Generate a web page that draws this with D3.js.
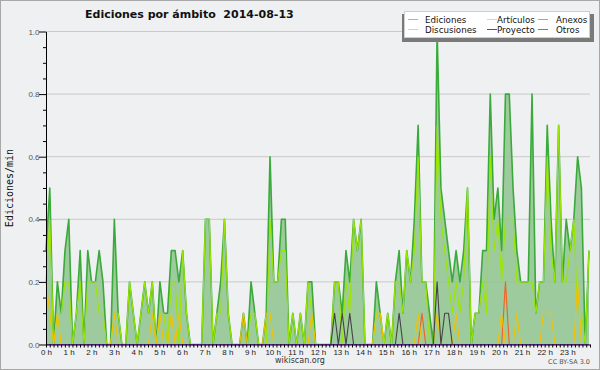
<!DOCTYPE html>
<html>
<head>
<meta charset="utf-8">
<script src="https://cdn.jsdelivr.net/npm/d3@7"></script>
<style>
  body { margin: 0; background: #f0f0f0; }
  svg { display: block; font-family: "DejaVu Sans", sans-serif; }
</style>
</head>
<body>
<script>
// values per 10 minute bin, edits/min
var ediciones = [
  0.3,0.5,0,0.2,0.1,0.3,0.4,0,0.1,0.3,
  0,0.3,0.2,0.2,0.3,0.2,0,0,0.4,0.1,
  0,0,0.2,0.1,0,0.1,0.2,0.1,0.2,0,
  0.2,0.1,0.1,0.3,0.3,0.2,0.3,0.1,0,0,
  0,0,0.4,0.4,0,0.1,0.2,0.4,0.1,0,
  0,0,0.1,0,0.2,0.1,0,0,0.1,0.6,
  0.2,0.2,0.4,0.4,0,0.1,0,0.1,0,0.2,
  0.2,0,0,0,0,0,0.2,0.2,0.1,0.3,
  0.2,0.4,0.3,0.4,0,0,0,0.2,0.1,0,
  0.1,0,0.2,0.3,0.1,0.3,0.2,0.4,0.7,0.2,
  0.2,0.1,0,1.0,0.5,0.4,0.3,0.2,0.3,0.2,
  0.3,0.5,0,0.1,0.1,0.3,0.3,0.8,0.4,0.5,
  0.3,0.8,0.8,0.5,0.3,0.2,0.2,0.2,0.8,0.1,
  0.2,0.2,0.7,0.4,0.2,0.7,0.2,0.4,0.3,0.4,
  0.6,0.5,0,0.3
];
var articulos = [
  0.2,0.4,0,0.1,0.1,0.2,0.2,0,0.1,0.2,
  0,0.2,0.2,0.2,0.1,0.1,0,0,0.1,0.1,
  0,0,0.2,0.1,0,0.1,0.2,0.1,0.2,0,
  0.1,0.1,0,0.2,0.2,0,0.3,0.1,0,0,
  0,0,0.4,0.4,0,0.1,0.1,0.4,0.1,0,
  0,0,0,0,0.1,0.1,0,0,0,0.4,
  0.2,0.2,0.3,0.3,0,0.1,0,0.1,0,0.2,
  0.1,0,0,0,0,0,0.2,0.2,0,0.2,
  0.1,0.4,0.3,0.4,0,0,0,0.1,0.1,0,
  0.1,0,0.2,0.2,0.1,0.3,0.2,0.3,0.6,0.2,
  0.2,0,0,0.7,0.4,0.3,0.2,0.1,0.2,0.1,
  0.2,0.5,0,0.1,0.1,0.2,0.1,0.6,0.3,0.4,
  0.2,0.4,0.4,0.4,0.2,0.2,0.2,0.2,0.2,0.1,
  0.2,0.2,0.6,0.3,0.2,0.7,0.2,0.2,0.3,0.4,
  0.1,0.1,0,0.3
];
var anexos = [
  0,0,0,0,0,0,0,0,0,0,
  0,0,0,0,0,0,0,0,0,0,
  0,0,0,0,0,0,0,0,0,0,
  0,0,0,0,0,0,0,0,0,0,
  0,0,0,0,0,0,0,0,0,0,
  0,0,0,0,0,0,0,0,0,0,
  0,0,0,0,0,0,0,0,0,0,
  0,0,0,0,0,0,0,0,0,0,
  0,0,0,0,0,0,0,0,0,0,
  0,0,0,0,0,0,0,0,0,0.1,
  0,0,0,0,0,0,0,0,0,0,
  0,0,0,0,0,0,0,0,0,0,
  0,0.2,0,0,0,0,0,0,0,0,
  0,0,0,0,0,0,0,0,0,0,
  0,0,0,0
];
var discusiones = [
  0.2,0.1,0,0.1,0,0,0,0,0,0,
  0,0,0,0,0,0,0,0,0.1,0,
  0,0,0,0,0,0,0,0,0.1,0,
  0.1,0,0,0.1,0,0.1,0,0,0,0,
  0,0,0,0,0,0,0,0,0,0,
  0,0,0.1,0,0,0,0,0,0.1,0.1,
  0,0,0,0,0,0,0,0,0,0,
  0.1,0,0,0,0,0,0,0,0,0,
  0,0,0,0,0,0,0,0.1,0.1,0,
  0,0,0,0,0,0,0,0,0.1,0,
  0,0,0,0.1,0,0,0,0,0.1,0,
  0,0,0,0,0,0,0,0,0,0,
  0.1,0,0,0,0.1,0,0,0,0,0,
  0,0.1,0.1,0.1,0,0,0,0,0,0,
  0.2,0,0,0
];
var proyecto = [
  0,0,0,0,0,0,0,0,0,0,
  0,0,0,0,0,0,0,0,0,0,
  0,0,0,0,0,0,0,0,0,0,
  0,0,0,0,0,0,0,0,0,0,
  0,0,0,0,0,0,0,0,0,0,
  0,0,0,0,0,0,0,0,0,0,
  0,0,0,0,0,0,0,0,0,0,
  0,0,0,0,0,0,0.1,0,0.1,0,
  0.1,0,0,0,0,0,0,0,0,0,
  0,0,0,0.1,0,0,0,0,0,0,
  0,0,0,0.2,0,0.1,0.1,0,0,0,
  0,0,0,0,0,0,0,0,0,0,
  0,0,0,0,0,0,0,0,0,0,
  0,0,0,0,0,0,0,0,0,0,
  0,0,0,0
];
var otros = ediciones.map(function() { return 0; });
var hourLabels = ["0 h","1 h","2 h","3 h","4 h","5 h","6 h","7 h","8 h","9 h","10 h","11 h",
                  "12 h","13 h","14 h","15 h","16 h","17 h","18 h","19 h","20 h","21 h","22 h","23 h"];
var yTicks = [0, 0.2, 0.4, 0.6, 0.8, 1.0];

var W = 600, H = 370;
var svg = d3.select("body").append("svg").attr("width", W).attr("height", H);

svg.append("rect").attr("x", 0.5).attr("y", 0.5).attr("width", W - 1).attr("height", H - 1)
  .attr("fill", "#eff0f1").attr("stroke", "#a8a8a8");

// scales
var x = d3.scaleLinear().domain([0, ediciones.length - 1]).range([46, 589]);
var xh = d3.scaleLinear().domain([0, 24]).range([46, 590]);
var y = d3.scaleLinear().domain([0, 1]).range([344.5, 31.5]);

// grid
svg.append("g").selectAll("line")
  .data(yTicks.slice(1))
  .enter().append("line")
    .attr("x1", 46).attr("x2", 590)
    .attr("y1", function(d) { return y(d); })
    .attr("y2", function(d) { return y(d); })
    .attr("stroke", "#c9c9c9").attr("stroke-width", 1);

var area = d3.area()
  .x(function(d, i) { return x(i); })
  .y0(y(0))
  .y1(function(d) { return y(d); });
var line = d3.line()
  .x(function(d, i) { return x(i); })
  .y(function(d) { return y(d); });

svg.append("path").attr("d", area(ediciones))
  .attr("fill", "#8fc48f").attr("fill-opacity", 0.85);

var series = [
  {name: "Ediciones", values: ediciones, color: "#3aaa3a", w: 1.6},
  {name: "Artículos", values: articulos, color: "#9be600", w: 1.1},
  {name: "Anexos", values: anexos, color: "#f06020", w: 1.1},
  {name: "Discusiones", values: discusiones, color: "#f2c200", w: 1.1},
  {name: "Proyecto", values: proyecto, color: "#444444", w: 1.1},
  {name: "Otros", values: otros, color: "#9040e0", w: 1.1}
];

series.forEach(function(s) {
  svg.append("path").attr("d", line(s.values))
    .attr("fill", "none").attr("stroke", s.color)
    .attr("stroke-width", s.w).attr("stroke-linejoin", "round");
});

// x axis
var xAxis = svg.append("g")
  .attr("transform", "translate(0," + y(0) + ")")
  .call(d3.axisBottom(xh)
    .tickValues(d3.range(0, 24 * 6 + 1).map(function(k) { return k / 6; }))
    .tickSize(3).tickSizeOuter(0)
    .tickFormat(function(d) {
      var h = Math.round(d * 6);
      return h % 6 === 0 && h / 6 < 24 ? hourLabels[h / 6] : "";
    }));
xAxis.select(".domain").attr("stroke", "#000");
xAxis.selectAll(".tick line").attr("stroke", "#000");
xAxis.selectAll("text").attr("font-size", 8).attr("fill", "#222").attr("dy", "0.6em");

// y axis
var yAxis = svg.append("g")
  .attr("transform", "translate(46,0)")
  .call(d3.axisLeft(y)
    .tickValues(d3.range(0, 21).map(function(k) { return k / 20; }))
    .tickSize(3).tickSizeOuter(0)
    .tickFormat(function(d) {
      var k = Math.round(d * 20);
      return k % 4 === 0 ? d3.format(".1f")(d) : "";
    }));
yAxis.select(".domain").attr("stroke", "#000");
yAxis.selectAll(".tick line").attr("stroke", "#000")
  .attr("x2", function(d) { return Math.round(d * 20) % 4 === 0 ? -7 : -3; });
yAxis.selectAll("text").attr("x", -6.5).attr("font-size", 8).attr("fill", "#555");

// titles
svg.append("text").attr("x", 85).attr("y", 18)
  .attr("font-size", 11).attr("font-weight", "bold").attr("fill", "#111")
  .style("white-space", "pre")
  .text("Ediciones por ámbito  2014-08-13");

svg.append("text")
  .attr("transform", "translate(13,188) rotate(-90)")
  .attr("text-anchor", "middle")
  .attr("font-family", "DejaVu Sans Mono, monospace")
  .attr("font-size", 10).attr("fill", "#111")
  .text("Ediciones/min");

svg.append("text").attr("x", 300).attr("y", 363)
  .attr("text-anchor", "middle").attr("font-size", 8).attr("fill", "#333")
  .text("wikiscan.org");
svg.append("text").attr("x", 590).attr("y", 364)
  .attr("text-anchor", "end").attr("font-size", 6.5).attr("fill", "#555")
  .text("CC BY-SA 3.0");

// legend
var lg = svg.append("g");
lg.append("rect").attr("x", 402).attr("y", 14).attr("width", 192).attr("height", 28).attr("fill", "#7a7a7a");
lg.append("rect").attr("x", 404.5).attr("y", 11.5).attr("width", 185).attr("height", 26)
  .attr("fill", "#fff").attr("stroke", "#cfcfcf");

var legendColors = ["#88cc88", "#ccee66", "#ff8855", "#ffd055", "#555555", "#9955ee"];
var cols = [408, 487, 538], textX = [425, 497, 556];
series.forEach(function(s, i) {
  var c = i % 3, r = Math.floor(i / 3);
  var yy = 19.5 + r * 10;
  lg.append("line").attr("x1", cols[c]).attr("x2", cols[c] + 10)
    .attr("y1", yy).attr("y2", yy).attr("stroke", legendColors[i]).attr("stroke-width", 1);
  lg.append("text").attr("x", textX[c]).attr("y", yy + 3.2)
    .attr("font-size", 8.7).attr("fill", "#111").text(s.name);
});
</script>
</body>
</html>
